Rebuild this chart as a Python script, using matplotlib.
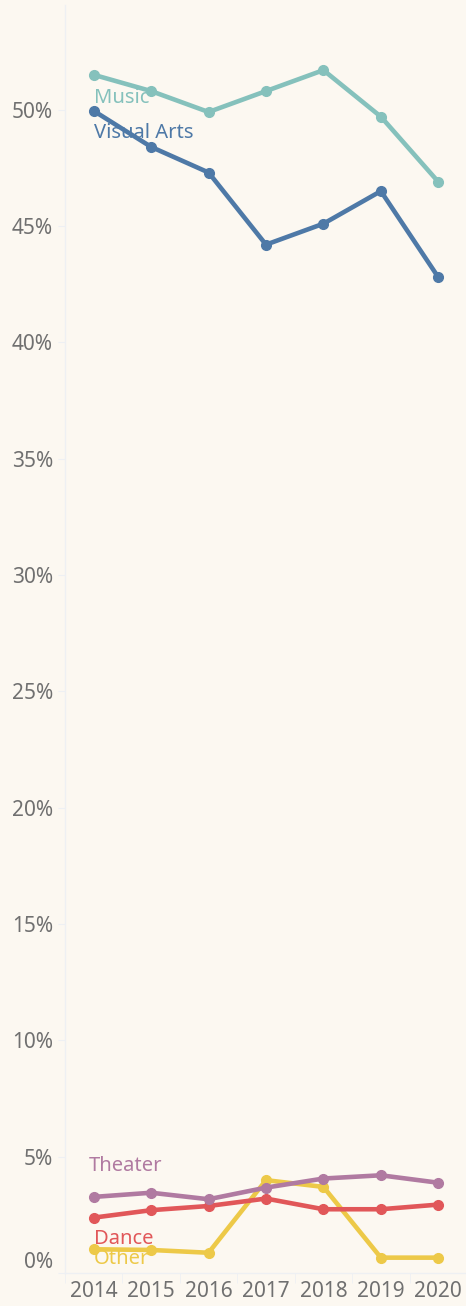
import matplotlib
matplotlib.use("Agg")
import matplotlib.pyplot as plt
from matplotlib.ticker import FixedLocator

years = ["2014", "2015", "2016", "2017", "2018", "2019", "2020"]
music = [51.5, 50.8, 49.9, 50.8, 51.7, 49.7, 46.9]
visual_arts = [49.95, 48.4, 47.3, 44.2, 45.1, 46.5, 42.8]
theater = [3.27, 3.45, 3.17, 3.67, 4.06, 4.2, 3.88]
dance = [2.38, 2.7, 2.88, 3.2, 2.74, 2.74, 2.94]
other = [1.02, 0.99, 0.87, 3.99, 3.7, 0.66, 0.66]
y_ticks = [0, 5, 10, 15, 20, 25, 30, 35, 40, 45, 50]

bg = "#fcf8f1"
plt.rcParams['font.family'] = ['Noto Sans', 'DejaVu Sans']

fig = plt.figure(figsize=(4.66, 13.06), dpi=100, facecolor=bg)
ax = fig.add_axes([65/466, 33/1306, 402/466, 1268/1306], facecolor=bg)

series = [
    ("Music", music, "#85c1bc", (0.0, 50.5)),
    ("Visual Arts", visual_arts, "#4e79a7", (0.0, 49.0)),
    ("Theater", theater, "#b07aa1", (-0.09, 4.6)),
    ("Dance", dance, "#e15759", (0.0, 1.46)),
    ("Other", other, "#edc948", (0.0, 0.6)),
]
x = list(range(len(years)))
order = ["Other", "Dance", "Theater", "Visual Arts", "Music"]
for name, vals, col, (lx, ly) in series:
    ax.plot(x, vals, color=col, lw=3.3, marker="o", ms=7,
            solid_capstyle="round", zorder=3 + order.index(name))
    ax.text(lx, ly, name, color=col, fontsize=14.5, fontweight="medium",
            ha="left", va="center", zorder=10)

ax.set_xlim(-0.5, 6.5)
ax.set_ylim(0, 54.5)
ax.set_xticks(x)
ax.set_xticklabels(years)
ax.xaxis.set_minor_locator(FixedLocator([i + 0.5 for i in range(-1, 7)]))
ax.set_yticks(y_ticks)
ax.set_yticklabels([f"{v}%" for v in y_ticks])

for s in ["top", "right"]:
    ax.spines[s].set_visible(False)
ax.spines["left"].set_color("#eef0f3")
ax.spines["bottom"].set_color("#eef0f3")
ax.spines["left"].set_linewidth(1.0)
ax.spines["bottom"].set_linewidth(1.0)

ax.tick_params(axis="y", which="major", length=5, color="#eef0f3",
               labelcolor="#707070", labelsize=15, pad=3.6)
ax.tick_params(axis="x", which="major", length=0, labelcolor="#707070",
               labelsize=15, pad=6)
ax.tick_params(axis="x", which="minor", length=7, color="#eef0f3")
for lab in ax.get_xticklabels() + ax.get_yticklabels():
    lab.set_fontweight("light")

# Shift the 0% label up so it sits above the axis edge
labels = ax.get_yticklabels()
labels[0].set_va("bottom")

fig.savefig("out.png", dpi=100, facecolor=bg)
